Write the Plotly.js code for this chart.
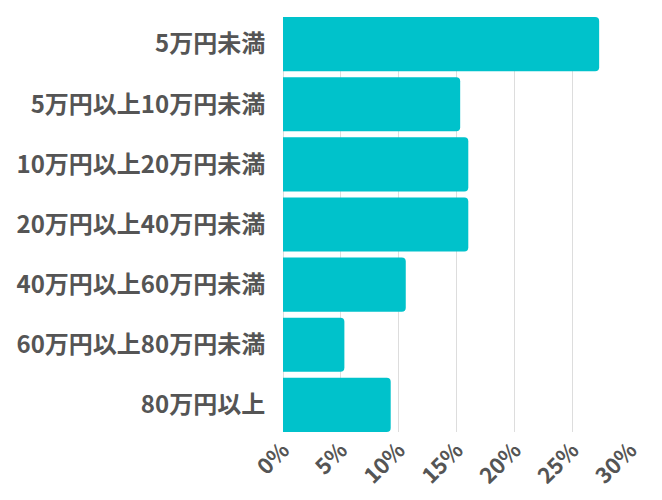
<!DOCTYPE html>
<html>
<head>
<meta charset="utf-8">
<script src="https://cdn.plot.ly/plotly-3.0.1.min.js"></script>
<style>
  html, body { margin: 0; padding: 0; background: #fff; }
  #chart { width: 662px; height: 500px; }
</style>
</head>
<body>
<div id="chart"></div>
<script>
// categorías de ingreso mensual y porcentaje de cada una
const categorias = ['5万円未満', '5万円以上10万円未満', '10万円以上20万円未満', '20万円以上40万円未満',
                    '40万円以上60万円未満', '60万円以上80万円未満', '80万円以上'];
const porcentajes = [27.3, 15.3, 16.0, 16.0, 10.6, 5.3, 9.3];
const ticksX = [0, 5, 10, 15, 20, 25, 30];
const etiquetasX = ['0%', '5%', '10%', '15%', '20%', '25%', '30%'];

const fuenteY = { family: '"Noto Sans CJK JP", "Noto Sans", sans-serif', size: 24, color: '#555555', weight: 700 };
const fuenteX = { family: '"Noto Sans CJK JP", "Noto Sans", sans-serif', size: 22, color: '#555555', weight: 700 };

const traza = {
    type: 'bar',
    orientation: 'h',
    x: porcentajes,
    y: categorias,
    marker: { color: '#00C2CB', cornerradius: 4 },
    hoverinfo: 'x+y'
};

const layout = {
    width: 662,
    height: 500,
    margin: { l: 283, r: 31, t: 17, b: 68 },
    paper_bgcolor: '#fff',
    plot_bgcolor: '#fff',
    showlegend: false,
    bargap: 0.1,
    font: fuenteY,
    xaxis: {
        range: [0, 30.05],
        tickvals: ticksX,
        ticktext: etiquetasX,
        tickangle: -45,
        tickfont: fuenteX,
        showgrid: true,
        gridcolor: '#dddddd',
        gridwidth: 1,
        zeroline: true,
        zerolinecolor: '#dddddd',
        showline: false,
        ticks: ''
    },
    yaxis: {
        type: 'category',
        range: [6.45, -0.45],
        tickfont: fuenteY,
        showgrid: false,
        zeroline: false,
        showline: false,
        ticks: 'outside',
        ticklen: 12,
        tickcolor: 'rgba(0,0,0,0)'
    }
};

Plotly.newPlot('chart', [traza], layout, { displayModeBar: false });
</script>
</body>
</html>
